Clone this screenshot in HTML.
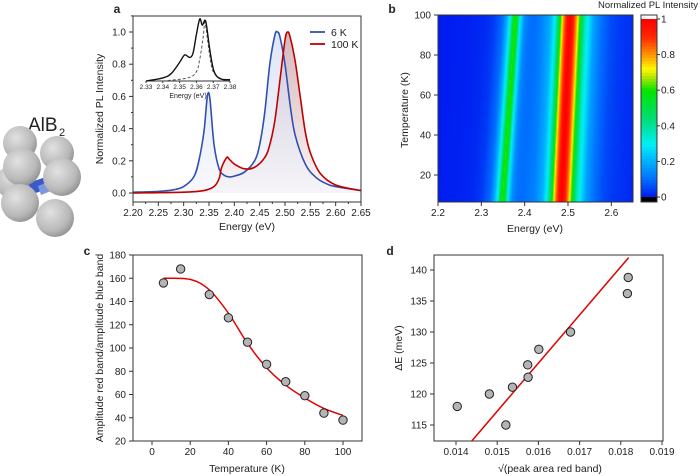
<!DOCTYPE html>
<html><head><meta charset="utf-8"><style>
body{margin:0;background:#fff;}
#wrap{position:relative;width:700px;height:476px;overflow:hidden;font-family:"Liberation Sans",sans-serif;}
svg{position:absolute;left:0;top:0;}
canvas{position:absolute;}
</style></head><body>
<div id="wrap">
<canvas id="heat" width="195" height="187" style="left:438px;top:15px"></canvas>
<svg id="s" width="700" height="476"></svg>
</div>
<script>
// ---- Panel a data ----
const blueE=[2.20,2.25,2.28,2.30,2.32,2.33,2.34,2.345,2.348,2.352,2.36,2.37,2.38,2.39,2.40,2.42,2.44,2.45,2.46,2.47,2.48,2.485,2.49,2.50,2.51,2.52,2.54,2.56,2.58,2.60,2.65];
const blueV=[0.005,0.01,0.02,0.04,0.10,0.2,0.38,0.55,0.62,0.58,0.3,0.15,0.11,0.10,0.105,0.13,0.2,0.3,0.5,0.8,0.98,1.0,0.97,0.8,0.55,0.36,0.18,0.1,0.06,0.04,0.015];
const redE=[2.20,2.30,2.34,2.36,2.37,2.375,2.385,2.39,2.40,2.42,2.44,2.46,2.47,2.48,2.49,2.50,2.505,2.51,2.52,2.53,2.54,2.55,2.57,2.60,2.65];
const redV=[0.0,0.005,0.015,0.04,0.09,0.16,0.22,0.21,0.18,0.15,0.16,0.22,0.3,0.45,0.7,0.95,1.0,0.97,0.82,0.6,0.38,0.25,0.12,0.05,0.015];
const insetE=[2.33,2.34,2.345,2.35,2.353,2.356,2.358,2.36,2.362,2.3635,2.365,2.366,2.368,2.37,2.372,2.375,2.38];
const insetV=[0.0,0.05,0.12,0.3,0.42,0.38,0.45,0.75,1.0,0.9,0.98,0.9,0.5,0.2,0.08,0.03,0.02];
const dashE=[2.34,2.355,2.36,2.362,2.364,2.365,2.366,2.368,2.37,2.375,2.38];
const dashV=[0,0.05,0.15,0.35,0.7,0.95,0.8,0.4,0.15,0.03,0.01];
const aXTicks=[2.20,2.25,2.30,2.35,2.40,2.45,2.50,2.55,2.60,2.65];
const aYTicks=[0.0,0.2,0.4,0.6,0.8,1.0];
const insetTicks=[2.33,2.34,2.35,2.36,2.37,2.38];
// ---- Panel b data ----
const heatT=[6,100];
const bluePeakPos=[2.345,2.375];
const redPeakPos=[2.487,2.507];
const bXTicks=[2.2,2.3,2.4,2.5,2.6];
const bYTicks=[20,40,60,80,100];
const cbTicks=[0,0.2,0.4,0.6,0.8,1];
// ---- Panel c data ----
const cT=[6,15,30,40,50,60,70,80,90,100];
const cRatio=[156,168,146,126,105,86,71,59,44,38];
const fitT=[6,20,30,40,50,60,70,80,90,100];
const fitV=[160,159,150,130,104,83,68,57,48,42];
const cXTicks=[0,20,40,60,80,100];
const cYTicks=[20,40,60,80,100,120,140,160,180];
// ---- Panel d data ----
const dX=[0.01403,0.01481,0.01521,0.01537,0.01574,0.01575,0.01601,0.01678,0.01816,0.01818];
const dY=[118,120,115,121.1,124.7,122.7,127.2,130,136.2,138.8];
const lineX=[0.01438,0.01819];
const lineY=[112.4,142];
const dXTicks=[0.014,0.015,0.016,0.017,0.018,0.019];
const dYTicks=[115,120,125,130,135,140];

const NS='http://www.w3.org/2000/svg';
const S=document.getElementById('s');
function mk(tag,attrs,name,parent){
  const el=document.createElementNS(NS,tag);
  for(const k in attrs)el.setAttribute(k,attrs[k]);
  
  
  (parent||S).appendChild(el);return el;
}
function txt(x,y,t,name,o){o=o||{};
  const el=mk('text',{x:x,y:y,'font-size':o.fs||10,'text-anchor':o.a||'middle',fill:o.c||'#222','font-weight':o.w||'normal','font-family':'Liberation Sans, DejaVu Sans, sans-serif'},name);
  if(o.rot)el.setAttribute('transform','rotate(-90 '+x+' '+y+')');
  el.textContent=t;return el;}
function smooth(pts){
  let d='M'+pts[0][0]+','+pts[0][1];
  for(let i=0;i<pts.length-1;i++){
    const p0=pts[Math.max(0,i-1)],p1=pts[i],p2=pts[i+1],p3=pts[Math.min(pts.length-1,i+2)];
    const c1=[p1[0]+(p2[0]-p0[0])/6,p1[1]+(p2[1]-p0[1])/6];
    const c2=[p2[0]-(p3[0]-p1[0])/6,p2[1]-(p3[1]-p1[1])/6];
    d+=' C'+c1[0]+','+c1[1]+' '+c2[0]+','+c2[1]+' '+p2[0]+','+p2[1];
  }return d;}
function frame(x0,y0,x1,y1,name){mk('rect',{x:x0,y:y0,width:x1-x0,height:y1-y0,fill:'none',stroke:'#333','stroke-width':1},name);}

// defs
const defs=mk('defs',{},'defs');
const g1=mk('linearGradient',{id:'gb',x1:0,y1:0,x2:0,y2:1},'blue-fill-gradient',defs);
mk('stop',{offset:0,'stop-color':'#c9d4ef'},'stop',g1);mk('stop',{offset:1,'stop-color':'#f3f5fb'},'stop',g1);
const g2=mk('linearGradient',{id:'gr',x1:0,y1:0,x2:0,y2:1},'red-fill-gradient',defs);
mk('stop',{offset:0,'stop-color':'#c9a6ac'},'stop',g2);mk('stop',{offset:1,'stop-color':'#fbf3f4'},'stop',g2);
const g3=mk('radialGradient',{id:'sp',cx:0.38,cy:0.35,r:0.7},'sphere-gradient',defs);
mk('stop',{offset:0,'stop-color':'#e2e2e2'},'stop',g3);mk('stop',{offset:0.7,'stop-color':'#b8b8b8'},'stop',g3);mk('stop',{offset:1,'stop-color':'#909090'},'stop',g3);

// ---- AlB2 structure ----
const lab=mk('text',{x:28,y:131,'font-size':19,fill:'#222','font-family':'Liberation Sans, sans-serif'},'alb2-label');
lab.textContent='AlB';
txt(59,136,'2','alb2-subscript',{fs:11,a:'start'});
[[20,143,17],[57,153,17],[13,182,17]].forEach(s=>mk('circle',{cx:s[0],cy:s[1],r:s[2],fill:'url(#sp)'},'al-atom-back'));
mk('polygon',{points:'28,183 46,177 50,188 33,194',fill:'#3a5bc7'},'boron-bond');
mk('polygon',{points:'38,186 48,182 51,191 41,195',fill:'#7f96e0'},'boron-bond-light');
[[22,167,19],[62,177,19],[20,203,19],[55,218,19]].forEach(s=>mk('circle',{cx:s[0],cy:s[1],r:s[2],fill:'url(#sp)'},'al-atom'));

// ---- Panel a ----
const xa=E=>133+(E-2.2)/0.45*228, ya=v=>193-v*161;
txt(117,13,'a','panel-a-letter',{fs:12,w:'bold'});
const bpts=blueE.map((e,i)=>[xa(e),ya(blueV[i])]);
const rpts=redE.map((e,i)=>[xa(e),ya(redV[i])]);
mk('path',{d:smooth(rpts)+' L'+xa(2.65)+','+ya(0)+' L'+xa(2.2)+','+ya(0)+'Z',fill:'url(#gr)',opacity:0.8},'red-area');
mk('path',{d:smooth(bpts)+' L'+xa(2.65)+','+ya(0)+' L'+xa(2.2)+','+ya(0)+'Z',fill:'url(#gb)',opacity:0.6},'blue-area');
mk('path',{d:smooth(bpts),fill:'none',stroke:'#3050b0','stroke-width':1.6},'line-6k');
mk('path',{d:smooth(rpts),fill:'none',stroke:'#c00000','stroke-width':1.6},'line-100k');
frame(133,16,361,202,'panel-a-frame');
aXTicks.forEach((t,i)=>{const x=xa(t);mk('line',{x1:x,y1:202,x2:x,y2:206,stroke:'#333'},'x-tick');txt(x,216,t.toFixed(2),'x-tick-label');
  if(i<aXTicks.length-1){const m=xa(t+0.025);mk('line',{x1:m,y1:202,x2:m,y2:204,stroke:'#333'},'x-minor-tick');}});
aYTicks.forEach(t=>{const y=ya(t);mk('line',{x1:129,y1:y,x2:133,y2:y,stroke:'#333'},'y-tick');txt(126,y+3.5,t.toFixed(1),'y-tick-label',{a:'end'});
  const m=ya(t+0.1);mk('line',{x1:131,y1:m,x2:133,y2:m,stroke:'#333'},'y-minor-tick');});
txt(247,230,'Energy (eV)','panel-a-x-title',{fs:10.5});
txt(103,109,'Normalized PL Intensity','panel-a-y-title',{fs:10.5,rot:1});
mk('line',{x1:310,y1:32,x2:325,y2:32,stroke:'#3050b0','stroke-width':1.8},'legend-6k-swatch');
txt(331,36,'6 K','legend-6k-label',{fs:10.5,a:'start'});
mk('line',{x1:310,y1:44,x2:325,y2:44,stroke:'#c00000','stroke-width':1.8},'legend-100k-swatch');
txt(331,48,'100 K','legend-100k-label',{fs:10.5,a:'start'});
// inset
const xi=E=>146+(E-2.33)/0.05*84, yi=v=>81-v*62;
mk('line',{x1:146,y1:81,x2:230,y2:81,stroke:'#333'},'inset-x-axis');
insetTicks.forEach(t=>{const x=xi(t);mk('line',{x1:x,y1:81,x2:x,y2:83,stroke:'#333'},'inset-tick');txt(x,89,t.toFixed(2),'inset-tick-label',{fs:6.5});});
txt(188,98,'Energy (eV)','inset-x-title',{fs:7});
mk('path',{d:smooth(dashE.map((e,i)=>[xi(e),yi(dashV[i])])),fill:'none',stroke:'#555','stroke-width':1,'stroke-dasharray':'3,2'},'inset-dashed-line');
mk('path',{d:smooth(insetE.map((e,i)=>[xi(e),yi(insetV[i])])),fill:'none',stroke:'#111','stroke-width':1.4},'inset-line');

// ---- Panel b heatmap ----
const xb=E=>438+(E-2.2)/0.45*195, yb=T=>15+(100-T)*2;
txt(392,13,'b','panel-b-letter',{fs:12,w:'bold'});
const stops=[[0,[0,25,240]],[0.1,[0,110,255]],[0.2,[0,175,255]],[0.3,[0,240,245]],[0.45,[0,220,110]],[0.6,[0,230,0]],[0.68,[190,230,0]],[0.72,[255,250,0]],[0.8,[255,150,0]],[0.9,[255,40,0]],[1,[255,0,0]]];
function cmap(v){v=Math.max(0,Math.min(1,v));for(let i=0;i<stops.length-1;i++){const a=stops[i],b=stops[i+1];if(v<=b[0]){const f=(v-a[0])/(b[0]-a[0]);return a[1].map((c,k)=>Math.round(c+(b[1][k]-c)*f));}}return stops[stops.length-1][1];}
function spec(E){if(E<=blueE[0])return blueV[0];for(let i=0;i<blueE.length-1;i++){if(E<=blueE[i+1]){const f=(E-blueE[i])/(blueE[i+1]-blueE[i]);return blueV[i]+(blueV[i+1]-blueV[i])*f;}}return blueV[blueV.length-1];}
(function(){const cv=document.getElementById('heat'),ctx=cv.getContext('2d');const im=ctx.createImageData(195,187);
 for(let py=0;py<187;py++){const T=100-(py+0.5)/2;const f=(T-heatT[0])/(heatT[1]-heatT[0]);
  const sb=(bluePeakPos[1]-bluePeakPos[0])*f, sr=(redPeakPos[1]-redPeakPos[0])*f;
  for(let px=0;px<195;px++){const E=2.2+(px+0.5)/195*0.45;const sh=E<2.42?sb:(E<2.44?sb+(sr-sb)*(E-2.42)/0.02:sr);
   let v=spec(E-sh);const c=cmap(v);const k=(py*195+px)*4;im.data[k]=c[0];im.data[k+1]=c[1];im.data[k+2]=c[2];im.data[k+3]=255;}}
 ctx.putImageData(im,0,0);})();
frame(438,15,633,202,'panel-b-frame');
bXTicks.forEach(t=>{const x=xb(t);mk('line',{x1:x,y1:202,x2:x,y2:206,stroke:'#333'},'x-tick');txt(x,216,String(t),'x-tick-label');});
bYTicks.forEach(t=>{const y=yb(t);mk('line',{x1:434,y1:y,x2:438,y2:y,stroke:'#333'},'y-tick');txt(431,y+3.5,String(t),'y-tick-label',{a:'end'});});
txt(535,232,'Energy (eV)','panel-b-x-title',{fs:10.5});
txt(408,110,'Temperature (K)','panel-b-y-title',{fs:10.5,rot:1});
// colorbar
const ycb=v=>197-v*178;
for(let i=0;i<60;i++){const v0=i/60,c=cmap(v0+1/120);mk('rect',{x:641,y:ycb(v0+1/60),width:16,height:178/60+0.5,fill:'rgb('+c.join(',')+')'},'colorbar-band');}
mk('rect',{x:641,y:197,width:16,height:5,fill:'#000'},'colorbar-under');
mk('rect',{x:641,y:15,width:16,height:4,fill:'#fff'},'colorbar-over');
mk('rect',{x:641,y:15,width:16,height:187,fill:'none',stroke:'#333'},'colorbar-frame');
cbTicks.forEach(t=>{const y=ycb(t);mk('line',{x1:657,y1:y,x2:660,y2:y,stroke:'#333'},'colorbar-tick');txt(661,y+3.5,t===0||t===1?String(t):t.toFixed(1),'colorbar-label',{a:'start'});});
txt(698,8,'Normalized PL Intensity','colorbar-title',{fs:9.5,a:'end'});

// ---- Panel c ----
const xc=T=>152+T*1.91, yc=v=>441-(v-20)*186/160;
txt(87,255,'c','panel-c-letter',{fs:12,w:'bold'});
frame(133,255,362,441,'panel-c-frame');
cXTicks.forEach(t=>{const x=xc(t);mk('line',{x1:x,y1:441,x2:x,y2:445,stroke:'#333'},'x-tick');txt(x,455,String(t),'x-tick-label');});
cYTicks.forEach(t=>{const y=yc(t);mk('line',{x1:129,y1:y,x2:133,y2:y,stroke:'#333'},'y-tick');txt(126,y+3.5,String(t),'y-tick-label',{a:'end'});});
mk('path',{d:smooth(fitT.map((t,i)=>[xc(t),yc(fitV[i])])),fill:'none',stroke:'#e00000','stroke-width':1.5},'fit-curve');
cT.forEach((t,i)=>{mk('circle',{cx:xc(t),cy:yc(cRatio[i]),r:4.2,fill:'#b4b4b4',stroke:'#222','stroke-width':1},'data-point');});
txt(247,472,'Temperature (K)','panel-c-x-title',{fs:10.5});
txt(103,348,'Amplitude red band/amplitude blue band','panel-c-y-title',{fs:10.5,rot:1});

// ---- Panel d ----
const xd=s=>456+(s-0.014)*41200, yd=v=>270+(140-v)*6.2;
txt(390,255,'d','panel-d-letter',{fs:12,w:'bold'});
frame(434,255,663,441,'panel-d-frame');
dXTicks.forEach(t=>{const x=xd(t);mk('line',{x1:x,y1:441,x2:x,y2:445,stroke:'#333'},'x-tick');txt(x,455,t.toFixed(3),'x-tick-label');});
dYTicks.forEach(t=>{const y=yd(t);mk('line',{x1:430,y1:y,x2:434,y2:y,stroke:'#333'},'y-tick');txt(427,y+3.5,String(t),'y-tick-label',{a:'end'});});
mk('line',{x1:xd(lineX[0]),y1:yd(lineY[0]),x2:xd(lineX[1]),y2:yd(lineY[1]),stroke:'#e00000','stroke-width':1.5},'fit-line');
dX.forEach((s,i)=>{mk('circle',{cx:xd(s),cy:yd(dY[i]),r:4.2,fill:'#b4b4b4',stroke:'#222','stroke-width':1},'data-point');});
txt(550,472,'\u221A(peak area red band)','panel-d-x-title',{fs:10.5});
txt(402,348,'\u0394E (meV)','panel-d-y-title',{fs:10.5,rot:1});
</script>
</body></html>
